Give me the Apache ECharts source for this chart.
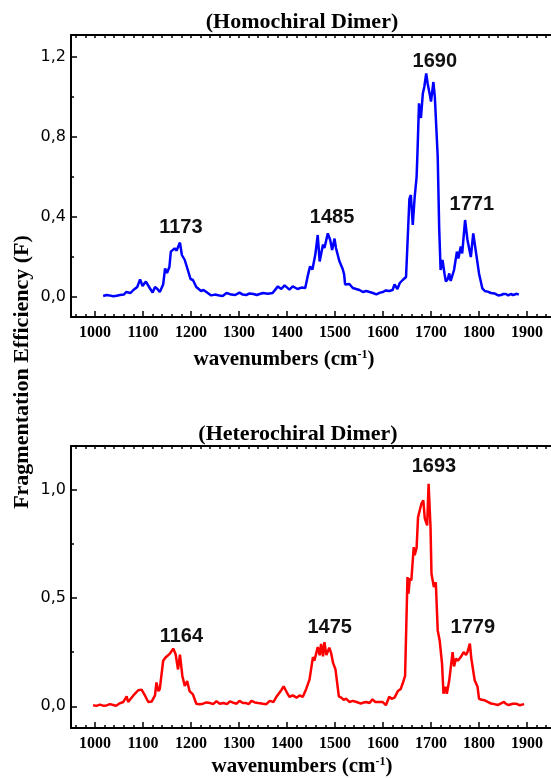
<!DOCTYPE html>
<html>
<head>
<meta charset="utf-8">
<script src="https://cdn.jsdelivr.net/npm/echarts@6/dist/echarts.min.js"></script>
<style>
  html, body { margin: 0; padding: 0; background: #fff; }
  #chart { width: 551px; height: 778px; }
</style>
</head>
<body>
<div id="chart"></div>
<script>
// Homochiral dimer spectrum (wavenumber, efficiency)
const homoX = [1017,1024,1030,1038,1045,1052,1060,1065,1069,1074,1080,1084,1088,1094,1099,1106,1114,1120,1125,1130,1135,1142,1146,1150,1155,1158,1162,1166,1170,1173,1177,1181,1187,1194,1199,1201,1204,1211,1216,1221,1226,1232,1242,1250,1259,1266,1274,1284,1292,1301,1308,1315,1322,1330,1337,1343,1350,1360,1370,1381,1388,1395,1405,1412,1422,1430,1438,1443,1448,1453,1459,1464,1468,1471,1475,1478,1485,1490,1494,1499,1502,1509,1516,1519,1521,1530,1537,1544,1551,1558,1565,1572,1579,1586,1594,1600,1606,1613,1620,1624,1630,1635,1641,1648,1651,1655,1658,1662,1666,1670,1672,1675,1679,1683,1686,1690,1693,1697,1700,1705,1708,1714,1717,1720,1724,1728,1731,1735,1738,1741,1748,1754,1757,1762,1765,1771,1776,1783,1788,1793,1800,1807,1812,1818,1825,1832,1840,1846,1851,1856,1861,1866,1871,1875,1879,1883];
const homoY = [0.005,0.01,0.008,0.004,0.006,0.01,0.012,0.025,0.027,0.02,0.035,0.042,0.05,0.088,0.055,0.077,0.045,0.022,0.05,0.04,0.025,0.063,0.143,0.12,0.15,0.227,0.235,0.243,0.232,0.24,0.272,0.21,0.185,0.13,0.09,0.097,0.085,0.05,0.04,0.03,0.035,0.025,0.008,0.012,0.008,0.005,0.02,0.012,0.01,0.022,0.012,0.01,0.018,0.015,0.01,0.015,0.02,0.016,0.02,0.053,0.04,0.058,0.037,0.053,0.04,0.047,0.045,0.103,0.153,0.137,0.212,0.31,0.178,0.17,0.262,0.245,0.318,0.285,0.235,0.292,0.245,0.18,0.14,0.113,0.063,0.065,0.045,0.04,0.035,0.025,0.03,0.025,0.02,0.013,0.022,0.025,0.033,0.03,0.035,0.063,0.04,0.07,0.085,0.1,0.09,0.49,0.51,0.36,0.5,0.6,0.735,0.968,0.895,1.018,1.05,1.118,1.068,1.018,0.977,1.075,1.0,0.70,0.35,0.135,0.185,0.118,0.077,0.09,0.118,0.08,0.135,0.227,0.193,0.252,0.218,0.385,0.285,0.2,0.318,0.235,0.118,0.043,0.03,0.027,0.02,0.018,0.008,0.01,0.015,0.015,0.008,0.015,0.01,0.01,0.016,0.012];

// Heterochiral dimer spectrum
const heteroX = [996,1003,1010,1017,1024,1031,1038,1044,1050,1059,1066,1069,1080,1090,1097,1104,1111,1118,1125,1128,1132,1135,1142,1147,1156,1163,1168,1173,1177,1182,1187,1192,1197,1204,1211,1218,1225,1232,1240,1246,1253,1260,1268,1275,1281,1290,1295,1301,1308,1315,1320,1326,1333,1340,1350,1357,1364,1372,1378,1388,1393,1399,1405,1412,1420,1426,1433,1440,1447,1454,1457,1464,1468,1471,1475,1478,1482,1488,1492,1496,1501,1504,1508,1513,1518,1523,1530,1537,1545,1554,1560,1565,1572,1578,1584,1590,1599,1606,1613,1618,1624,1631,1637,1641,1646,1651,1653,1656,1659,1664,1666,1670,1673,1677,1680,1684,1687,1692,1695,1699,1701,1706,1710,1714,1718,1723,1726,1730,1733,1738,1745,1748,1752,1756,1762,1768,1773,1776,1781,1784,1788,1791,1797,1800,1806,1811,1818,1825,1832,1839,1845,1852,1857,1862,1870,1877,1885,1894];
const heteroY = [0.005,0.002,0.008,0.003,0.004,0.01,0.006,0.002,0.012,0.02,0.046,0.02,0.05,0.074,0.077,0.05,0.02,0.022,0.05,0.11,0.07,0.08,0.21,0.225,0.243,0.266,0.24,0.17,0.238,0.14,0.094,0.117,0.07,0.055,0.012,0.01,0.012,0.018,0.015,0.01,0.023,0.012,0.015,0.01,0.023,0.015,0.012,0.025,0.015,0.015,0.01,0.025,0.018,0.015,0.012,0.01,0.025,0.02,0.044,0.074,0.092,0.067,0.044,0.05,0.04,0.05,0.044,0.08,0.124,0.227,0.21,0.273,0.235,0.288,0.23,0.296,0.236,0.27,0.245,0.2,0.17,0.172,0.046,0.04,0.03,0.035,0.02,0.025,0.02,0.012,0.018,0.02,0.015,0.032,0.02,0.02,0.02,0.005,0.044,0.035,0.04,0.07,0.08,0.105,0.14,0.596,0.52,0.59,0.58,0.734,0.697,0.73,0.872,0.88,0.934,0.949,0.867,0.834,1.026,0.826,0.611,0.55,0.572,0.35,0.305,0.197,0.058,0.09,0.058,0.12,0.25,0.184,0.22,0.21,0.227,0.25,0.237,0.25,0.289,0.22,0.225,0.12,0.09,0.035,0.03,0.028,0.02,0.013,0.01,0.006,0.012,0.02,0.01,0.006,0.012,0.012,0.005,0.01];

// peak annotations: [label, wavenumber, efficiency] where the text sits
const homoPeaks = [['1173', 1179, 0.35], ['1485', 1494, 0.40], ['1690', 1708, 1.18], ['1771', 1785, 0.465]];
const heteroPeaks = [['1164', 1180, 0.324], ['1475', 1489, 0.363], ['1693', 1706, 1.107], ['1779', 1787, 0.363]];

// tick values
const xMajor = [1000,1100,1200,1300,1400,1500,1600,1700,1800,1900];
const xMinor = [];
for (let v = 960; v <= 1940; v += 20) if (v % 100 !== 0) xMinor.push(v);
const xAll = xMajor.concat(xMinor);
const homoYMajor = [0, 0.4, 0.8, 1.2];
const homoYMinor = [0.2, 0.6, 1.0];
const heteroYMajor = [0, 0.5, 1.0];
const heteroYMinor = [0.25, 0.75];

const serif = '"Liberation Serif", "Times New Roman", serif';
const sans = '"Liberation Sans", Arial, sans-serif';
const black = '#000';

function pairs(xs, ys) { return xs.map((x, i) => [x, ys[i]]); }

function xAxes(grid) {
  const base = { gridIndex: grid, type: 'value', min: 950, max: 1950, splitLine: { show: false } };
  return [
    Object.assign({}, base, {
      position: 'bottom',
      axisLine: { onZero: false, lineStyle: { color: black, width: 2 } },
      axisTick: { inside: true, length: 6, customValues: xMajor, lineStyle: { color: black, width: 1.5 } },
      axisLabel: { customValues: xMajor, formatter: v => String(v), color: black, fontFamily: serif, fontWeight: 'bold', fontSize: 16, margin: 8 }
    }),
    Object.assign({}, base, {
      position: 'bottom',
      axisLine: { show: false, onZero: false },
      axisTick: { inside: true, length: 3, customValues: xMinor, lineStyle: { color: black, width: 1.5 } },
      axisLabel: { show: false }
    }),
    Object.assign({}, base, {
      position: 'top',
      axisLine: { onZero: false, lineStyle: { color: black, width: 2 } },
      axisTick: { inside: true, length: 3, customValues: xAll, lineStyle: { color: black, width: 1.5 } },
      axisLabel: { show: false }
    })
  ];
}

function yAxes(grid, major, minor, min, max) {
  const base = { gridIndex: grid, type: 'value', position: 'left', min: min, max: max, splitLine: { show: false } };
  return [
    Object.assign({}, base, {
      axisLine: { show: true, onZero: false, lineStyle: { color: black, width: 2 } },
      axisTick: { show: true, inside: true, length: 6, customValues: major, lineStyle: { color: black, width: 1.5 } },
      axisLabel: {
        customValues: major, color: black, fontFamily: '"DejaVu Sans", sans-serif', fontSize: 16, margin: 5,
        formatter: v => v.toFixed(1).replace('.', ',')
      }
    }),
    Object.assign({}, base, {
      axisLine: { show: false },
      axisTick: { show: true, inside: true, length: 3, customValues: minor, lineStyle: { color: black, width: 1.5 } },
      axisLabel: { show: false }
    })
  ];
}

function peakMarks(peaks) {
  return {
    symbol: 'circle', symbolSize: 1, silent: true,
    itemStyle: { color: 'rgba(0,0,0,0)' },
    label: { show: true, position: 'inside', formatter: p => p.name, color: '#111', fontFamily: sans, fontWeight: 'bold', fontSize: 20 },
    data: peaks.map(p => ({ name: p[0], coord: [p[1], p[2]] }))
  };
}

const chart = echarts.init(document.getElementById('chart'));
const supRich = {
  a: { fontFamily: serif, fontWeight: 'bold', fontSize: 21, fill: black },
  s: { fontFamily: serif, fontWeight: 'bold', fontSize: 12, fill: black, verticalAlign: 'top', padding: [0, 0, 10, 0] }
};

chart.setOption({
  animation: false,
  backgroundColor: '#fff',
  grid: [
    { left: 71, top: 35, width: 480, height: 282 },
    { left: 71, top: 446, width: 480, height: 282 }
  ],
  xAxis: xAxes(0).concat(xAxes(1)),
  yAxis: yAxes(0, homoYMajor, homoYMinor, -0.1, 1.31).concat(yAxes(1, heteroYMajor, heteroYMinor, -0.1, 1.2)),
  series: [
    {
      type: 'line', xAxisIndex: 0, yAxisIndex: 0, data: pairs(homoX, homoY),
      showSymbol: false, lineStyle: { color: '#0000ff', width: 2.5 }, itemStyle: { color: '#0000ff' },
      markPoint: peakMarks(homoPeaks)
    },
    {
      type: 'line', xAxisIndex: 3, yAxisIndex: 2, data: pairs(heteroX, heteroY),
      showSymbol: false, lineStyle: { color: '#ff0000', width: 2.5 }, itemStyle: { color: '#ff0000' },
      markPoint: peakMarks(heteroPeaks)
    }
  ],
  graphic: [
    { type: 'text', x: 302, y: 22, style: { text: '(Homochiral Dimer)', align: 'center', verticalAlign: 'middle', font: 'bold 22px ' + serif, fill: black } },
    { type: 'text', x: 298, y: 434, style: { text: '(Heterochiral Dimer)', align: 'center', verticalAlign: 'middle', font: 'bold 22px ' + serif, fill: black } },
    { type: 'text', x: 284, y: 360, style: { text: '{a|wavenumbers (cm}{s|-1}{a|)}', rich: supRich, align: 'center', verticalAlign: 'middle' } },
    { type: 'text', x: 302, y: 767, style: { text: '{a|wavenumbers (cm}{s|-1}{a|)}', rich: supRich, align: 'center', verticalAlign: 'middle' } },
    { type: 'text', x: 22, y: 372, rotation: Math.PI / 2, style: { text: 'Fragmentation Efficiency (F)', align: 'center', verticalAlign: 'middle', font: 'bold 22px ' + serif, fill: black } }
  ]
});

window.addEventListener('resize', function () {
  chart.resize();
});
</script>
</body>
</html>
